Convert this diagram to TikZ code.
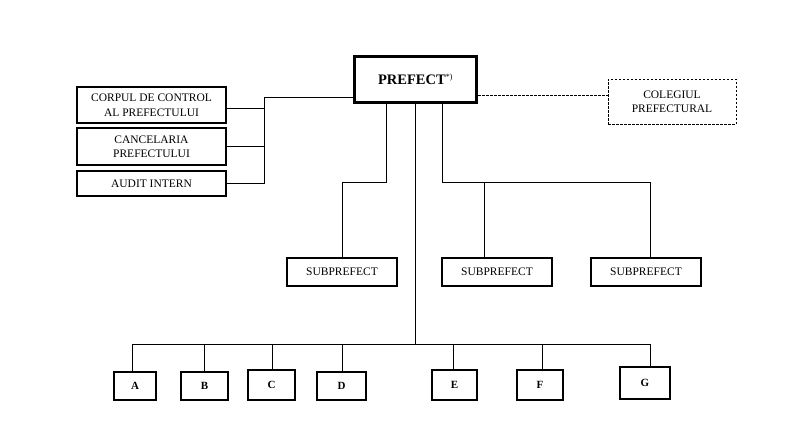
\documentclass[tikz,border=0pt]{standalone}
\usepackage{fontspec}
\setmainfont{Liberation Serif}
\usetikzlibrary{positioning}

\tikzset{
	box/.style={draw, line width=1.1pt, align=center, inner sep=1pt, font=\fontsize{11.5}{14.5}\selectfont},
	chief/.style={draw, line width=3pt, minimum width=122pt, minimum height=46pt, font=\fontsize{14.5}{16}\selectfont\bfseries},
	unit/.style={box, minimum width=110pt, minimum height=28pt},
	staff/.style={box, minimum width=149pt},
	letter/.style={box, minimum height=28pt, font=\fontsize{11}{13}\selectfont\bfseries},
	link/.style={line width=0.9pt},
	dlink/.style={line width=0.9pt, dashed, dash pattern=on 2.5pt off 1.5pt}
}

\begin{document}
\begin{tikzpicture}[x=1pt, y=-1pt]
	\useasboundingbox (0,0) rectangle (800,421);
	
	\node[chief] (prefect) at (415.5,79.5) {PREFECT\textsuperscript{\normalfont\fontsize{8}{8}\selectfont *)}};
	
	\node[staff, minimum height=36pt] (corpul) at (151.5,105) {CORPUL DE CONTROL\\AL PREFECTULUI};
	\node[staff, minimum height=37pt] (cancel) at (151.5,146.5) {CANCELARIA\\PREFECTULUI};
	\node[staff, minimum height=25pt] (audit) at (151.5,183.5) {AUDIT INTERN};
	
	\node[box, dlink, minimum width=128pt, minimum height=45pt] (colegiul) at (672,101.5) {COLEGIUL\\PREFECTURAL};
	
	\node[unit] (subA) at (342,272) {SUBPREFECT};
	\node[unit] (subB) at (497,272) {SUBPREFECT};
	\node[unit] (subC) at (646,272) {SUBPREFECT};
	
	\node[letter, minimum width=42pt] (A) at (135,386) {A};
	\node[letter, minimum width=47pt] (B) at (204.5,386) {B};
	\node[letter, minimum width=47pt, minimum height=30pt] (C) at (271.5,385) {C};
	\node[letter, minimum width=49pt] (D) at (341.5,386) {D};
	\node[letter, minimum width=45pt, minimum height=30pt] (E) at (454.5,385) {E};
	\node[letter, minimum width=46pt, minimum height=30pt] (F) at (540,385) {F};
	\node[letter, minimum width=50pt, minimum height=32pt] (G) at (645,383) {G};
	
	% staff branch
	\coordinate (pw) at (prefect.west |- 0,97);
	\coordinate (trunk) at (264,97);
	\draw[link] (pw) -- (trunk) |- (audit.east);
	\draw[link] (corpul.east |- 0,108) -- (trunk |- 0,108);
	\draw[link] (cancel.east) -- (trunk |- cancel.east);
	
	% colegiul
	\draw[dlink] (prefect.east |- 0,95) -- (colegiul.west |- 0,95);
	
	% subprefects
	\coordinate (pl) at (386,182);
	\coordinate (pr) at (442,182);
	\coordinate (sb) at (484,182);
	\draw[link] (pl |- prefect.south) -- (pl) -| (subA.north);
	\draw[link] (pr |- prefect.south) -- (pr) -- (sb) -- (sb |- subB.north);
	\draw[link] (sb) -- (650,182) coordinate (sc) -- (sc |- subC.north);
	
	% services
	\coordinate (bar) at (prefect.south |- 0,344);
	\draw[link] (prefect.south) -- (bar);
	\draw[link] (132,344) coordinate (ba) -- (650,344) coordinate (bg);
	\foreach \x/\n in {132/A, 204/B, 272/C, 342/D, 453/E, 542/F, 650/G}
		\draw[link] (\x,344) -- (\x,0 |- \n.north);
	
\end{tikzpicture}
\end{document}
